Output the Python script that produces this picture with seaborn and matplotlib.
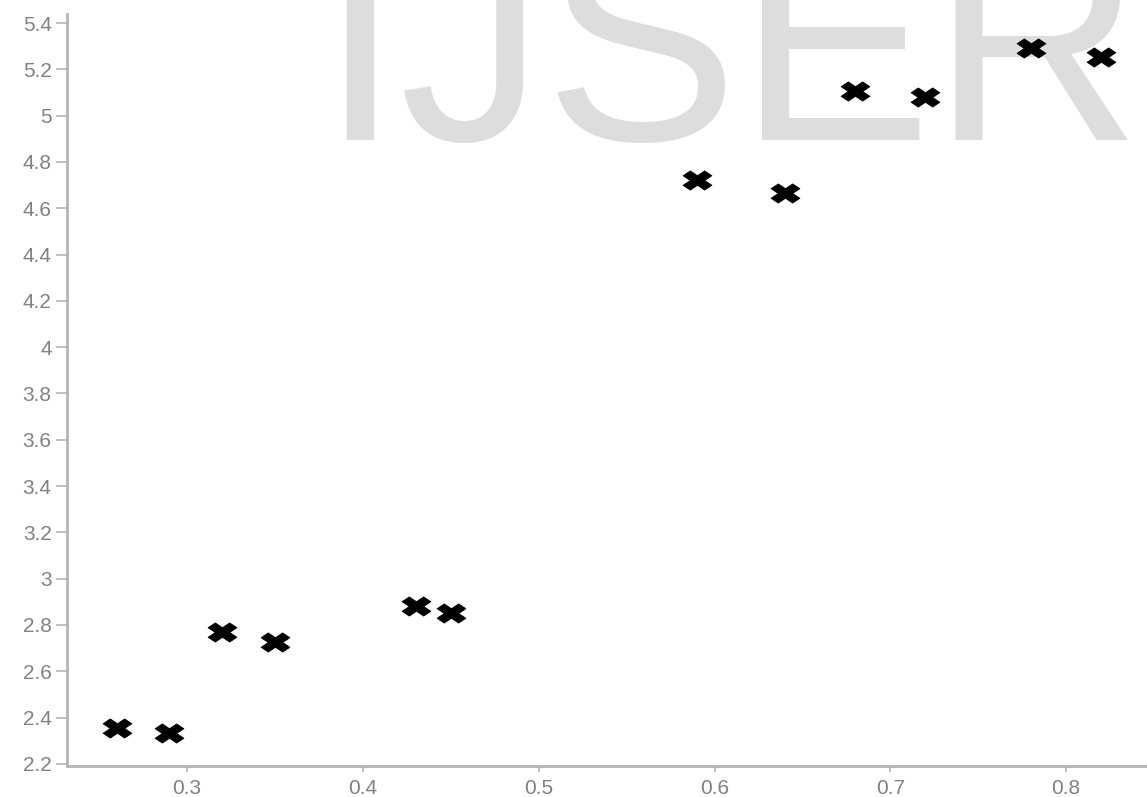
import matplotlib
matplotlib.use("Agg")
import matplotlib.pyplot as plt
from matplotlib.markers import MarkerStyle
from matplotlib.transforms import Affine2D
from matplotlib.ticker import FuncFormatter
import seaborn as sns
import pandas as pd

# Measured samples
x_vals = [0.26, 0.29, 0.32, 0.35, 0.43, 0.45, 0.59, 0.64, 0.68, 0.72, 0.78, 0.82]
y_vals = [2.355, 2.335, 2.77, 2.725, 2.88, 2.85, 4.72, 4.665, 5.105, 5.08, 5.29, 5.255]
x_ticks = [0.3, 0.4, 0.5, 0.6, 0.7, 0.8]
y_ticks = [2.2, 2.4, 2.6, 2.8, 3.0, 3.2, 3.4, 3.6, 3.8, 4.0, 4.2, 4.4, 4.6, 4.8, 5.0, 5.2, 5.4]
watermark = "IJSER"

sns.set_style("white")
plt.rcParams["font.family"] = ["Liberation Sans", "DejaVu Sans"]

W, H = 1147, 797
fig = plt.figure(figsize=(W / 100, H / 100), dpi=100)
ax = fig.add_axes([67 / W, 1 - 766 / H, 1 - 67 / W, (766 - 14) / H])

df = pd.DataFrame({"x": x_vals, "y": y_vals})
wide_x = MarkerStyle("X", transform=Affine2D().scale(1.5, 1.0))
sns.scatterplot(data=df, x="x", y="y", marker=wide_x, s=190, color="black",
                edgecolor="black", linewidth=0.6, ax=ax, zorder=3)

ax.set_xlim(0.2317, 0.846)
ax.set_ylim(2.191, 5.439)
ax.set_xticks(x_ticks)
ax.set_yticks(y_ticks)
fmt = FuncFormatter(lambda v, p: f"{v:g}")
ax.xaxis.set_major_formatter(fmt)
ax.yaxis.set_major_formatter(fmt)
ax.set_xlabel("")
ax.set_ylabel("")

spine_c = "#b4b4b4"
label_c = "#828282"
for side in ("top", "right"):
    ax.spines[side].set_visible(False)
for side in ("left", "bottom"):
    ax.spines[side].set_color(spine_c)
    ax.spines[side].set_linewidth(2)
ax.tick_params(axis="y", direction="out", length=8, width=1.2, color=spine_c,
               labelcolor=label_c, labelsize=15, pad=3, left=True)
ax.tick_params(axis="x", direction="out", length=4, width=1.2, color=spine_c,
               labelcolor=label_c, labelsize=15, pad=5, bottom=True)

# Large pale banner text behind the points
ax.text(730 / W, 1 - 140 / H, watermark, transform=fig.transFigure,
        ha="center", va="baseline", fontsize=209, color="#dddddd",
        family="Liberation Sans", zorder=0, clip_on=False)

fig.savefig("out.png", dpi=100)
